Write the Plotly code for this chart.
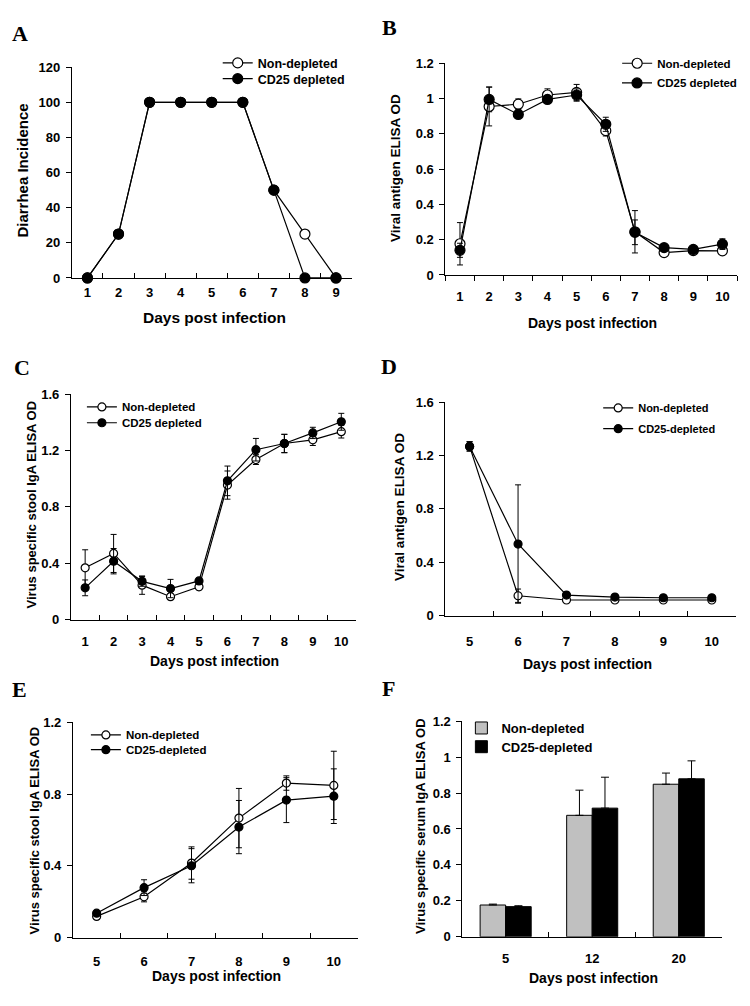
import plotly.graph_objects as go

# the page body has an 8px margin; size the figure so the page fits the window exactly
PAGE_W, PAGE_H = 750, 1006
OFF = 8
W, H = PAGE_W - 2 * OFF, PAGE_H - 2 * OFF

# ---------------- data ----------------
a_days = ["1", "2", "3", "4", "5", "6", "7", "8", "9"]
a_non = [0, 25, 100, 100, 100, 100, 50, 25, 0]
a_cd25 = [0, 25, 100, 100, 100, 100, 50, 0, 0]

b_days = ["1", "2", "3", "4", "5", "6", "7", "8", "9", "10"]
b_non = [0.177, 0.955, 0.968, 1.02, 1.035, 0.818, 0.245, 0.127, 0.138, 0.137]
b_non_err = [0.12, 0.11, 0.03, 0.035, 0.045, 0.03, 0.12, 0.015, 0.01, 0.015]
b_cd25 = [0.14, 0.995, 0.91, 0.995, 1.02, 0.854, 0.242, 0.155, 0.145, 0.175]
b_cd25_err = [0.04, 0.07, 0.02, 0.02, 0.035, 0.04, 0.07, 0.015, 0.01, 0.03]

c_days = ["1", "2", "3", "4", "5", "6", "7", "8", "9", "10"]
c_non = [0.368, 0.47, 0.245, 0.163, 0.233, 0.955, 1.136, 1.25, 1.276, 1.334]
c_non_err = [0.128, 0.135, 0.065, 0.02, 0.02, 0.1, 0.035, 0.065, 0.04, 0.045]
c_cd25 = [0.226, 0.415, 0.272, 0.221, 0.275, 0.985, 1.206, 1.25, 1.325, 1.404]
c_cd25_err = [0.056, 0.09, 0.035, 0.065, 0.02, 0.105, 0.08, 0.065, 0.04, 0.06]

d_days = ["5", "6", "7", "8", "9", "10"]
d_non = [1.268, 0.15, 0.118, 0.118, 0.118, 0.118]
d_non_err = [0.035, 0.05, 0.01, 0.01, 0.01, 0.01]
d_cd25 = [1.268, 0.537, 0.155, 0.14, 0.135, 0.135]
d_cd25_err = [0.035, 0.443, 0.01, 0.01, 0.01, 0.01]

e_days = ["5", "6", "7", "8", "9", "10"]
e_non = [0.119, 0.228, 0.416, 0.666, 0.861, 0.848]
e_non_err = [0.01, 0.028, 0.09, 0.165, 0.04, 0.19]
e_cd25 = [0.137, 0.279, 0.401, 0.616, 0.766, 0.788]
e_cd25_err = [0.01, 0.044, 0.095, 0.148, 0.125, 0.152]

f_days = ["5", "12", "20"]
f_non = [0.177, 0.676, 0.849]
f_non_err = [0.005, 0.14, 0.062]
f_cd25 = [0.168, 0.716, 0.879]
f_cd25_err = [0.005, 0.172, 0.1]

# tick labels
ticks_a = [0, 20, 40, 60, 80, 100, 120]
ticks_a_text = ["0", "20", "40", "60", "80", "100", "120"]
ticks_02 = [0, 0.2, 0.4, 0.6, 0.8, 1.0, 1.2]
ticks_02_text = ["0", "0.2", "0.4", "0.6", "0.8", "1", "1.2"]
ticks_16 = [0, 0.4, 0.8, 1.2, 1.6]
ticks_16_text = ["0", "0.4", "0.8", "1.2", "1.6"]
ticks_12 = [0, 0.4, 0.8, 1.2]
ticks_12_text = ["0", "0.4", "0.8", "1.2"]

# ---------------- layout helpers ----------------
SANS = "Liberation Sans"
SERIF = "Liberation Serif"


def xd(px):
    return (px - OFF) / W


def yd(py):
    return 1 - (py - OFF) / H


fig = go.Figure()

# panel pixel boxes (page coordinates): left, right, top, bottom
panels = [
    # key, box, yrange, tickvals, ticktext, xticks direction, x label standoff
    ("A", (72, 352, 61, 275), [0, 120], ticks_a, ticks_a_text, "inside", 2),
    ("B", (446, 738, 57, 272), [0, 1.2], ticks_02, ticks_02_text, "outside", 9),
    ("C", (71, 356, 393, 622), [0, 1.6], ticks_16, ticks_16_text, "inside", 10),
    ("D", (446, 737, 401, 618), [0, 1.6], ticks_16, ticks_16_text, "inside", 14),
    ("E", (73, 358, 726, 945), [0, 1.2], ticks_12, ticks_12_text, "inside", 12),
    ("F", (463, 723, 725, 944), [0, 1.2], ticks_02, ticks_02_text, "inside", 10),
]
ncat = {"A": len(a_days), "B": len(b_days), "C": len(c_days),
        "D": len(d_days), "E": len(e_days), "F": len(f_days)}

axis_font = dict(family=SANS, size=13, color="black", weight="bold")
layout_axes = {}
for i, (key, (l, r, t, b), yr, tv, tt, xdir, xso) in enumerate(panels):
    n = "" if i == 0 else str(i + 1)
    layout_axes["xaxis" + n] = dict(
        domain=[xd(l), xd(r)], anchor="y" + n, type="category",
        range=[-0.5, ncat[key] - 0.5], tickson="boundaries",
        ticks=xdir, ticklen=5, tickwidth=1, tickcolor="black",
        showline=True, linecolor="black", linewidth=1,
        showgrid=False, zeroline=False, tickfont=axis_font,
        ticklabelstandoff=xso, fixedrange=True,
    )
    layout_axes["yaxis" + n] = dict(
        domain=[yd(b), yd(t)], anchor="x" + n, range=yr,
        tickvals=tv, ticktext=tt, ticks="outside", ticklen=5,
        tickwidth=1, tickcolor="black", showline=True,
        linecolor="black", linewidth=1, showgrid=False,
        zeroline=False, tickfont=axis_font, ticklabelstandoff=3,
        fixedrange=True,
    )


def err(arr, w=3):
    return dict(type="data", array=arr, color="black", thickness=1, width=w,
                visible=True)


def line_trace(x, y, e, name, filled, ax, legend, msize):
    return go.Scatter(
        x=x, y=y, mode="lines+markers", name=name,
        line=dict(color="black", width=1.2),
        marker=dict(symbol="circle", size=msize,
                    color="black" if filled else "white",
                    line=dict(color="black", width=1.2)),
        error_y=err(e) if e is not None else None,
        xaxis="x" + ax, yaxis="y" + ax, legend=legend,
        cliponaxis=False, showlegend=True,
    )


# A
fig.add_trace(line_trace(a_days, a_non, None, "Non-depleted", False, "", "legend", 10))
fig.add_trace(line_trace(a_days, a_cd25, None, "CD25 depleted", True, "", "legend2", 10))
# B
fig.add_trace(line_trace(b_days, b_non, b_non_err, "Non-depleted", False, "2", "legend3", 10))
fig.add_trace(line_trace(b_days, b_cd25, b_cd25_err, "CD25 depleted", True, "2", "legend4", 10))
# C
fig.add_trace(line_trace(c_days, c_non, c_non_err, "Non-depleted", False, "3", "legend5", 8))
fig.add_trace(line_trace(c_days, c_cd25, c_cd25_err, "CD25 depleted", True, "3", "legend6", 8))
# D
fig.add_trace(line_trace(d_days, d_non, d_non_err, "Non-depleted", False, "4", "legend7", 8))
fig.add_trace(line_trace(d_days, d_cd25, d_cd25_err, "CD25-depleted", True, "4", "legend8", 8))
# E
fig.add_trace(line_trace(e_days, e_non, e_non_err, "Non-depleted", False, "5", "legend9", 8))
fig.add_trace(line_trace(e_days, e_cd25, e_cd25_err, "CD25-depleted", True, "5", "legend10", 8))
# F
fig.add_trace(go.Bar(
    x=f_days, y=f_non, name="Non-depleted",
    marker=dict(color="#c0c0c0", line=dict(color="black", width=1)),
    error_y=dict(type="data", symmetric=False, array=f_non_err,
                 arrayminus=[0] * len(f_non_err), color="black",
                 thickness=1, width=4),
    xaxis="x6", yaxis="y6", legend="legend11"))
fig.add_trace(go.Bar(
    x=f_days, y=f_cd25, name="CD25-depleted",
    marker=dict(color="black", line=dict(color="black", width=1)),
    error_y=dict(type="data", symmetric=False, array=f_cd25_err,
                 arrayminus=[0] * len(f_cd25_err), color="black",
                 thickness=1, width=4),
    xaxis="x6", yaxis="y6", legend="legend12"))

# legends: one per item for exact placement (x px of legend left, y px of row center, font size)
legend_pos = [
    (218, 57, 12.5), (218, 73, 12.5),
    (618, 57, 11.5), (618, 77, 11.5),
    (82, 406, 11.5), (82, 422, 11.5),
    (599, 407, 11), (599, 428, 11),
    (86, 739, 11.5), (86, 754, 11.5),
    (462, 732, 13), (462, 751, 13),
]
legends = {}
for i, (lx, ly, fs) in enumerate(legend_pos):
    key = "legend" if i == 0 else "legend" + str(i + 1)
    legends[key] = dict(
        x=xd(lx), y=yd(ly), xanchor="left", yanchor="middle",
        bgcolor="rgba(0,0,0,0)", borderwidth=0,
        font=dict(family=SANS, size=fs, color="black", weight="bold"),
        itemwidth=30, tracegroupgap=0,
    )

# annotations: panel letters and axis titles
annotations = []
letters = [("A", 20, 27), ("B", 390, 21), ("C", 22, 366),
           ("D", 390, 365), ("E", 20, 693), ("F", 389, 692)]
for txt, px, py in letters:
    annotations.append(dict(
        text=txt, x=xd(px), y=yd(py), xref="paper", yref="paper",
        xanchor="center", yanchor="middle", showarrow=False,
        font=dict(family=SERIF, size=22, color="black", weight="bold")))

ytitles = [("Diarrhea Incidence", 23, 166, 15),
           ("Viral antigen ELISA OD", 396, 163, 13.5),
           ("Virus specific stool IgA ELISA OD", 32, 505, 13),
           ("Viral antigen ELISA OD", 400, 507, 13.5),
           ("Virus specific stool IgA ELISA OD", 34, 836, 13),
           ("Virus specific serum IgA ELISA OD", 421, 831, 13)]
for txt, px, py, fs in ytitles:
    annotations.append(dict(
        text=txt, x=xd(px), y=yd(py), xref="paper", yref="paper",
        xanchor="center", yanchor="middle", showarrow=False, textangle=-90,
        font=dict(family=SANS, size=fs, color="black", weight="bold")))

xtitles = [(215, 315, 15.5), (593, 321, 14), (215, 664, 14),
           (588, 667, 14), (217, 984, 14), (594, 986, 14)]
for px, py, fs in xtitles:
    annotations.append(dict(
        text="Days post infection", x=xd(px), y=yd(py), xref="paper",
        yref="paper", xanchor="center", yanchor="middle", showarrow=False,
        font=dict(family=SANS, size=fs, color="black", weight="bold")))

fig.update_layout(
    width=W, height=H, margin=dict(l=0, r=0, t=0, b=0),
    paper_bgcolor="white", plot_bgcolor="white",
    barmode="group", bargap=0.41, bargroupgap=0,
    annotations=annotations, showlegend=True,
    **layout_axes, **legends,
)

fig.write_html("out.html")
